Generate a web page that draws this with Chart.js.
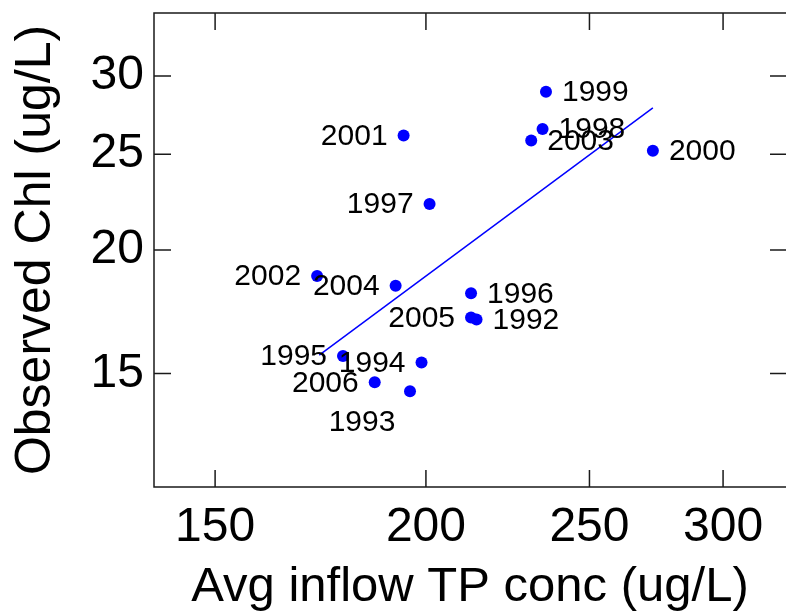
<!DOCTYPE html>
<html>
<head>
<meta charset="utf-8">
<script src="https://cdn.jsdelivr.net/npm/chart.js@4.4.1/dist/chart.umd.min.js"></script>
<style>
  html, body { margin: 0; padding: 0; background: #fff; }
  canvas { display: block; }
</style>
</head>
<body>
<canvas id="chart" width="786" height="615"></canvas>
<script>
// data (log-log plot)
const years = [1992, 1993, 1994, 1995, 1996, 1997, 1998, 1999, 2000, 2001, 2002, 2003, 2004, 2005, 2006];
const inflowTP = [214.3, 195.7, 198.8, 178.6, 212.7, 201.0, 234.5, 235.6, 272.6, 194.0, 172.4, 230.9, 191.9, 212.7, 186.5];
const observedChl = [17.01, 14.39, 15.39, 15.62, 18.08, 22.26, 26.51, 28.92, 25.20, 26.12, 18.82, 25.82, 18.40, 17.09, 14.69];

// fitted line end points
const fitX = [172.9, 272.6];
const fitY = [15.65, 27.86];

const xTicks = [150, 200, 250, 300];
const yTicks = [15, 20, 25, 30];
const xRange = [138.0, 326.9];
const yRange = [11.51, 34.75];

// where each year label sits relative to its dot
const labelSide = ['R', 'B', 'L', 'L', 'R', 'L', 'R', 'R', 'R', 'L', 'L', 'R', 'L', 'L', 'L'];

const FONT = "'Liberation Sans', Arial, Helvetica, sans-serif";

const boxPlugin = {
  id: 'box',
  afterDraw(chart) {
    const ctx = chart.ctx;
    const a = chart.chartArea;
    const xs = chart.scales.x, ys = chart.scales.y;
    const tl = 17;
    ctx.save();
    ctx.strokeStyle = '#1a1a1a';
    ctx.lineWidth = 1.5;
    ctx.beginPath();
    ctx.moveTo(a.right + 2, a.top);
    ctx.lineTo(a.left, a.top);
    ctx.lineTo(a.left, a.bottom);
    ctx.lineTo(a.right + 2, a.bottom);
    xTicks.forEach((v) => {
      const px = xs.getPixelForValue(v);
      ctx.moveTo(px, a.bottom); ctx.lineTo(px, a.bottom - tl);
      ctx.moveTo(px, a.top); ctx.lineTo(px, a.top + tl);
    });
    yTicks.forEach((v) => {
      const py = ys.getPixelForValue(v);
      ctx.moveTo(a.left, py); ctx.lineTo(a.left + tl, py);
      ctx.moveTo(a.right + 1, py); ctx.lineTo(a.right + 1 - tl, py);
    });
    ctx.stroke();

    // year labels
    const meta = chart.getDatasetMeta(0);
    ctx.fillStyle = '#000';
    ctx.font = '30px ' + FONT;
    ctx.textBaseline = 'middle';
    meta.data.forEach((pt, i) => {
      const side = labelSide[i];
      let x = pt.x, y = pt.y + 1;
      if (side === 'R') { ctx.textAlign = 'left'; x += 16; }
      else if (side === 'L') { ctx.textAlign = 'right'; x -= 16; }
      else { ctx.textAlign = 'center'; x -= 48; y += 31; }
      ctx.fillText(String(years[i]), x, y);
    });
    ctx.restore();
  }
};

function noEdgePadding(scale) {
  scale.paddingTop = 0;
  scale.paddingBottom = 0;
  scale.paddingLeft = 0;
  scale.paddingRight = 0;
}

new Chart(document.getElementById('chart'), {
  type: 'scatter',
  data: {
    datasets: [
      {
        data: inflowTP.map((v, i) => ({ x: v, y: observedChl[i] })),
        backgroundColor: '#0000ff',
        borderWidth: 0,
        pointRadius: 6,
      },
      {
        data: fitX.map((v, i) => ({ x: v, y: fitY[i] })),
        showLine: true,
        borderColor: '#0000ff',
        borderWidth: 1.5,
        pointRadius: 0,
      },
    ],
  },
  options: {
    responsive: false,
    animation: false,
    layout: { autoPadding: false, padding: { top: 13, right: 0, left: 0, bottom: 0 } },
    plugins: { legend: { display: false }, tooltip: { enabled: false } },
    scales: {
      x: {
        type: 'logarithmic',
        position: 'bottom',
        min: xRange[0],
        max: xRange[1],
        afterBuildTicks: (scale) => { scale.ticks = xTicks.map((v) => ({ value: v })); },
        afterFit: (scale) => { scale.height = 128; noEdgePadding(scale); },
        grid: { display: false, drawTicks: false },
        border: { display: false },
        ticks: {
          color: '#000',
          font: { family: FONT, size: 48, lineHeight: 1.2 },
          padding: 12,
          maxRotation: 0,
          autoSkip: false,
          callback: (v) => String(v),
        },
        title: {
          display: true,
          text: 'Avg inflow TP conc (ug/L)',
          color: '#000',
          font: { family: FONT, size: 49, lineHeight: 1 },
          padding: { top: 0, bottom: 3 },
        },
      },
      y: {
        type: 'logarithmic',
        position: 'left',
        min: yRange[0],
        max: yRange[1],
        afterBuildTicks: (scale) => { scale.ticks = yTicks.map((v) => ({ value: v })); },
        afterFit: (scale) => { scale.width = 154; noEdgePadding(scale); },
        grid: { display: false, drawTicks: false },
        border: { display: false },
        ticks: {
          color: '#000',
          font: { family: FONT, size: 48, lineHeight: 1.2 },
          padding: 10,
          autoSkip: false,
          callback: (v) => String(v),
        },
        title: {
          display: true,
          text: 'Observed Chl (ug/L)',
          color: '#000',
          font: { family: FONT, size: 50, lineHeight: 1 },
          padding: { top: 11, bottom: 0 },
        },
      },
    },
  },
  plugins: [boxPlugin],
});
</script>
</body>
</html>
